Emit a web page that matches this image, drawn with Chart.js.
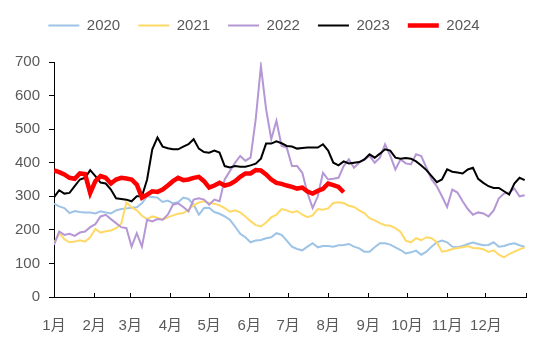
<!DOCTYPE html>
<html>
<head>
<meta charset="utf-8">
<script src="https://cdn.jsdelivr.net/npm/chart.js@4"></script>
<style>
  html, body { margin: 0; padding: 0; background: #fff; }
  #wrap { width: 550px; height: 351px; }
</style>
</head>
<body>
<div id="wrap"><canvas id="myChart" width="550" height="351"></canvas></div>
<script>
// giorni dell'anno (passo 4) su cui sono letti i valori
const days = [0, 4, 8, 12, 16, 20, 24, 28, 32, 36, 40, 44, 48, 52, 56, 60, 64, 68, 72, 76,
  80, 84, 88, 92, 96, 100, 104, 108, 112, 116, 120, 124, 128, 132, 136, 140, 144, 148, 152, 156,
  160, 164, 168, 172, 176, 180, 184, 188, 192, 196, 200, 204, 208, 212, 216, 220, 224, 228, 232, 236,
  240, 244, 248, 252, 256, 260, 264, 268, 272, 276, 280, 284, 288, 292, 296, 300, 304, 308, 312, 316,
  320, 324, 328, 332, 336, 340, 344, 348, 352, 356, 360, 364];

const monthStarts = [0, 31, 59, 90, 120, 151, 181, 212, 243, 273, 304, 334, 365];
const monthLabels = ['1月', '2月', '3月', '4月', '5月', '6月', '7月', '8月', '9月', '10月', '11月', '12月', ''];

const v2020 = [278, 270, 265, 250, 256, 253, 252, 252, 249, 255,
  252, 249, 258, 262, 264, 266, 267, 279, 300, 298,
  296, 283, 287, 279, 282, 296, 292, 275, 245, 265,
  266, 253, 248, 240, 230, 210, 188, 178, 163, 168,
  170, 175, 178, 190, 185, 168, 150, 143, 139, 150,
  160, 148, 152, 152, 150, 154, 155, 158, 150, 145,
  135, 135, 148, 160, 160, 156, 148, 140, 130, 133,
  138, 126, 135, 150, 163, 168, 163, 150, 148, 152,
  158, 162, 158, 154, 155, 163, 150, 152, 157, 160,
  154, 150];

const v2021 = [160, 190, 172, 163, 165, 169, 165, 178, 203, 192,
  196, 198, 205, 218, 282, 267, 258, 242, 232, 240,
  236, 230, 237, 243, 248, 250, 260, 273, 282, 285,
  280, 278, 273, 265, 254, 258, 252, 240, 226, 214,
  210, 222, 237, 245, 262, 258, 252, 256, 245, 238,
  243, 262, 260, 264, 280, 282, 280, 272, 268, 258,
  250, 235, 228, 220, 214, 212, 205, 194, 168, 163,
  175, 169, 178, 175, 163, 135, 138, 143, 146, 148,
  152, 146, 145, 142, 134, 139, 126, 118, 128, 135,
  142, 148];

const v2022 = [155, 195, 185, 188, 182, 192, 195, 208, 217, 240,
  245, 232, 220, 208, 205, 150, 190, 150, 230, 225,
  232, 230, 245, 275, 279, 268, 255, 290, 294, 290,
  275, 290, 285, 350, 375, 400, 420, 406, 415, 530,
  688, 560, 470, 525, 450, 445, 390, 390, 370, 310,
  265, 300, 370, 350, 352, 355, 390, 410, 385, 400,
  408, 420, 400, 415, 455, 421, 380, 410, 398, 395,
  425, 420, 385, 350, 330, 300, 268, 320, 311, 285,
  262, 245, 252, 249, 240, 258, 294, 308, 311, 323,
  300, 303];

const v2023 = [297, 318, 308, 310, 330, 350, 355, 378, 360, 341,
  338, 320, 294, 292, 290, 285, 300, 300, 350, 440,
  475, 448, 443, 440, 440, 448, 455, 470, 442, 432,
  430, 436, 430, 390, 386, 390, 388, 388, 392, 397,
  412, 457, 457, 464, 458, 450, 448, 442, 444, 445,
  445, 445, 455, 436, 400, 392, 404, 398, 400, 402,
  410, 425, 415, 427, 440, 436, 415, 412, 414, 412,
  404, 392, 378, 360, 342, 350, 380, 373, 371, 368,
  380, 385, 352, 340, 330, 325, 325, 315, 305, 338,
  355, 348];

const v2024 = [377, 372, 365, 355, 352, 368, 366, 310, 345, 360,
  355, 338, 350, 355, 353, 350, 335, 296, 305, 315,
  313, 320, 332, 345, 355, 348, 350, 355, 358, 345,
  326, 332, 340, 332, 336, 345, 358, 368, 368, 378,
  377, 365, 350, 340, 337, 332, 328, 323, 326, 314,
  308, 316, 322, 338, 333, 328, 312];

function toPoints(values) {
  return values.map((v, i) => ({ x: days[i], y: v }));
}

const fontFamily = "'Liberation Sans', Arial, 'Noto Sans CJK SC', sans-serif";
const textColor = '#595959';

// spazio extra sotto la legenda
const legendSpacer = {
  id: 'legendSpacer',
  beforeInit(chart) {
    const origFit = chart.legend.fit;
    chart.legend.fit = function() {
      origFit.call(this);
      this.height += 19;
    };
  }
};

const ctx = document.getElementById('myChart').getContext('2d');
new Chart(ctx, {
  type: 'line',
  data: {
    datasets: [
      { label: '2020', data: toPoints(v2020), borderColor: '#9DC3E6', borderWidth: 2, order: 5 },
      { label: '2021', data: toPoints(v2021), borderColor: '#FFD966', borderWidth: 2, order: 4 },
      { label: '2022', data: toPoints(v2022), borderColor: '#B597D6', borderWidth: 2, order: 3 },
      { label: '2023', data: toPoints(v2023), borderColor: '#000000', borderWidth: 2, order: 2 },
      { label: '2024', data: toPoints(v2024), borderColor: '#FF0000', borderWidth: 4.5, order: 1 }
    ]
  },
  plugins: [legendSpacer],
  options: {
    responsive: false,
    animation: false,
    elements: {
      point: { radius: 0 },
      line: { tension: 0, fill: false }
    },
    layout: { padding: { left: 0, right: 22, top: 0, bottom: 17 } },
    scales: {
      x: {
        type: 'linear',
        min: 0,
        max: 365,
        afterBuildTicks: axis => {
          axis.ticks = monthStarts.map(v => ({ value: v }));
        },
        afterFit: axis => { axis.height = 37; },
        grid: { drawOnChartArea: false, tickLength: -4, color: '#000' },
        border: { color: '#000', width: 1 },
        ticks: {
          autoSkip: false,
          maxRotation: 0,
          padding: 24,
          color: textColor,
          font: { family: fontFamily, size: 15 },
          callback: (value, index) => monthLabels[index]
        }
      },
      y: {
        min: 0,
        max: 700,
        afterFit: axis => { axis.width = 54; },
        grid: { drawOnChartArea: false, tickLength: 5, color: '#000' },
        border: { color: '#000', width: 1 },
        ticks: {
          stepSize: 100,
          padding: 9,
          color: textColor,
          font: { family: fontFamily, size: 15 }
        }
      }
    },
    plugins: {
      legend: {
        position: 'top',
        labels: {
          usePointStyle: true,
          pointStyle: 'line',
          pointStyleWidth: 31,
          padding: 18,
          color: textColor,
          font: { family: fontFamily, size: 15 },
          sort: (a, b) => a.datasetIndex - b.datasetIndex
        }
      },
      tooltip: { enabled: false }
    }
  }
});
</script>
</body>
</html>
